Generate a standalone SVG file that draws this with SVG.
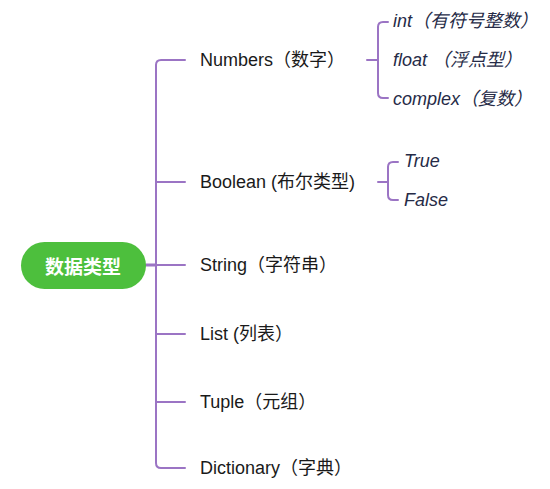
<svg xmlns="http://www.w3.org/2000/svg" width="550" height="489" viewBox="0 0 550 489">
<style>
.ln{fill:none;stroke:#9b74c4;stroke-width:2;stroke-linecap:round;stroke-linejoin:round}
.lb{font-family:"Liberation Sans","Noto Sans CJK SC",sans-serif;font-size:18px;fill:#1a1a1a;dominant-baseline:central}
.sb{font-family:"Liberation Sans","Noto Sans CJK SC",sans-serif;font-size:18px;font-style:italic;fill:#262b47;dominant-baseline:central}
.rt{font-family:"Noto Sans CJK SC",sans-serif;font-size:19px;font-weight:bold;fill:#ffffff;dominant-baseline:central;text-anchor:middle}
</style>
<rect width="550" height="489" fill="#ffffff"/>
<g id="connectors">
<path class="ln" d="M146,265 H156" style="stroke-width:3"/>
<path class="ln" d="M185,60 H161 Q156,60 156,65 V463 Q156,468 161,468 H185"/>
<path class="ln" d="M156,182 H185 M156,265 H185 M156,334 H185 M156,402 H185"/>
<path class="ln" d="M367,60 H378 M388,22 H383 Q378,22 378,27 V93 Q378,98 383,98 H388"/>
<path class="ln" d="M378,182 H388 M398,162 H393 Q388,162 388,167 V195 Q388,200 393,200 H398"/>
</g>
<g id="root">
<rect x="21" y="242" width="125" height="47" rx="23.5" fill="#4dbf3d"/>
<text class="rt" x="83" y="265">数据类型</text>
</g>
<g id="numbers"><text class="lb" x="200" y="60">Numbers（数字）</text></g>
<g id="int"><text class="sb" x="393" y="21">int（有符号整数）</text></g>
<g id="float"><text class="sb" x="393" y="60">float （浮点型）</text></g>
<g id="complex"><text class="sb" x="393" y="99">complex（复数）</text></g>
<g id="boolean"><text class="lb" x="200" y="182">Boolean (布尔类型)</text></g>
<g id="true"><text class="sb" x="404" y="161">True</text></g>
<g id="false"><text class="sb" x="404" y="200">False</text></g>
<g id="string"><text class="lb" x="200" y="265">String（字符串）</text></g>
<g id="list"><text class="lb" x="200" y="334">List (列表）</text></g>
<g id="tuple"><text class="lb" x="200" y="402">Tuple（元组）</text></g>
<g id="dictionary"><text class="lb" x="200" y="468">Dictionary（字典）</text></g>
</svg>
